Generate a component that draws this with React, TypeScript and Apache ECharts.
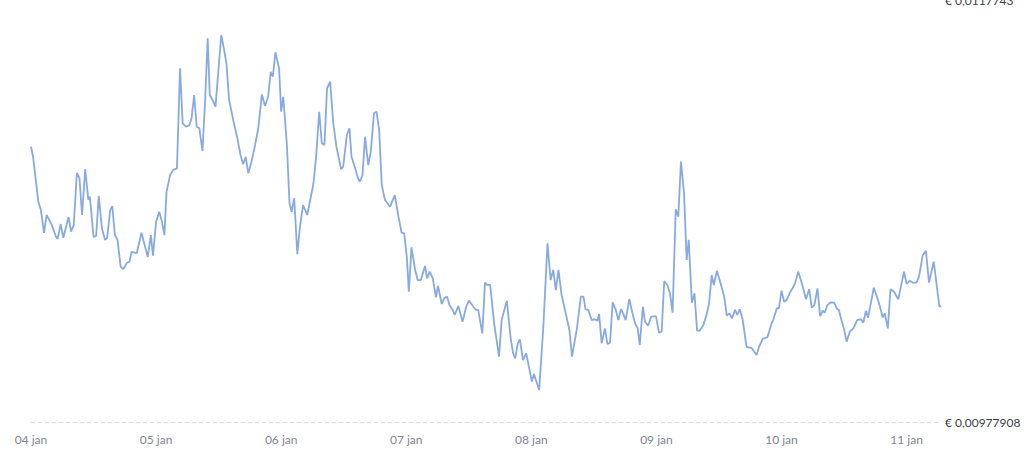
import React, { useEffect, useRef } from "react";
import * as echarts from "echarts";

// Hours since 04 jan 00:00
const hours: number[] = [
  0.0, 0.4, 1.4, 1.9, 2.5, 3.0, 4.0, 4.8, 5.1, 5.7, 6.2, 7.2, 7.7, 8.2, 8.8, 9.3, 9.8, 10.4, 11.0, 11.3,
  12.0, 12.5, 13.0, 13.6, 14.2, 14.6, 15.2, 15.6, 16.1, 16.6, 17.2, 17.7, 18.4, 18.9, 19.3, 20.3, 21.2, 21.9, 22.4, 23.0,
  23.4, 24.0, 24.6, 25.1, 25.6, 26.0, 26.7, 27.3, 28.0, 28.6, 29.1, 29.7, 30.4, 30.8, 31.3, 31.8, 32.3, 32.9, 33.4, 33.9,
  34.3, 35.0, 35.4, 36.5, 37.0, 37.5, 38.0, 38.8, 39.6, 40.2, 40.7, 41.2, 41.7, 42.3, 43.0, 43.6, 44.3, 44.9, 45.5, 46.0,
  46.4, 46.9, 47.6, 48.0, 48.4, 49.1, 49.6, 50.0, 50.5, 51.1, 51.6, 52.2, 53.0, 53.7, 54.2, 54.7, 55.3, 55.8, 56.3, 56.8,
  57.4, 58.0, 58.6, 59.5, 59.9, 60.6, 61.1, 61.5, 62.2, 62.7, 63.1, 63.6, 64.1, 64.7, 65.2, 65.8, 66.3, 66.8, 67.3, 67.9,
  68.9, 69.8, 70.5, 71.1, 71.6, 72.1, 72.5, 73.0, 73.7, 74.2, 74.8, 75.6, 76.0, 76.5, 77.1, 77.7, 78.1, 78.8, 79.3, 79.8,
  80.3, 80.9, 81.3, 82.0, 82.8, 83.5, 84.0, 84.9, 85.4, 85.8, 86.6, 87.1, 87.5, 88.1, 88.9, 89.8, 90.3, 91.3, 92.0, 92.5,
  92.9, 93.4, 93.8, 94.4, 95.0, 95.4, 96.1, 96.5, 97.5, 98.3, 99.1, 99.7, 100.2, 100.7, 101.2, 101.8, 103.3, 103.8, 104.7, 105.5,
  106.0, 106.4, 106.9, 107.6, 108.2, 108.7, 109.0, 109.5, 110.1, 110.6, 111.1, 111.6, 112.2, 112.7, 113.2, 113.6, 114.1, 114.8, 115.4, 115.9,
  116.4, 116.8, 117.4, 117.8, 118.4, 119.0, 119.9, 120.5, 121.0, 121.5, 122.1, 122.6, 123.1, 123.7, 124.2, 124.7, 125.3, 125.8, 126.2, 126.8,
  127.3, 127.8, 128.3, 129.0, 129.6, 130.1, 130.6, 131.0, 131.6, 132.3, 133.0, 133.5, 134.0, 134.5, 135.1, 135.5, 136.0, 136.5, 137.3, 138.3,
  139.2, 139.7, 140.4, 141.3, 142.1, 142.4, 143.1, 143.5, 144.0, 144.5, 145.0, 145.6, 146.1, 146.6, 147.2, 147.9, 148.7, 149.3, 149.8, 150.3,
  150.9, 151.4, 151.9, 152.3, 152.8, 153.4, 154.1, 154.7, 155.0, 155.5, 156.0, 156.5, 157.1, 157.8, 158.5, 159.2, 159.7, 160.2, 160.6, 161.2,
  161.7, 162.4, 162.9, 163.4, 163.8, 164.4, 164.9, 165.6, 166.4, 167.5, 168.0, 168.6, 169.2, 169.9, 170.4, 171.1, 171.7, 172.3, 173.2, 174.3,
  174.6,
];

// Price in EUR
const prices: number[] = [
  0.011081, 0.011033, 0.010821, 0.010781, 0.010673, 0.010758, 0.010710, 0.010655, 0.010644, 0.010715,
  0.010650, 0.010748, 0.010679, 0.010710, 0.010956, 0.010933, 0.010758, 0.010975, 0.010829, 0.010844,
  0.010654, 0.010659, 0.010848, 0.010696, 0.010640, 0.010649, 0.010781, 0.010800, 0.010663, 0.010640,
  0.010513, 0.010502, 0.010531, 0.010537, 0.010584, 0.010578, 0.010674, 0.010608, 0.010559, 0.010663,
  0.010566, 0.010725, 0.010773, 0.010729, 0.010663, 0.010867, 0.010947, 0.010971, 0.010978, 0.011451,
  0.011191, 0.011175, 0.011183, 0.011215, 0.011325, 0.011175, 0.011168, 0.011060, 0.011293, 0.011593,
  0.011325, 0.011293, 0.011270, 0.011609, 0.011546, 0.011475, 0.011302, 0.011207, 0.011120, 0.011042,
  0.010998, 0.011033, 0.010955, 0.011010, 0.011089, 0.011168, 0.011328, 0.011273, 0.011317, 0.011435,
  0.011412, 0.011527, 0.011451, 0.011246, 0.011317, 0.011089, 0.010813, 0.010773, 0.010837, 0.010573,
  0.010702, 0.010805, 0.010758, 0.010844, 0.010908, 0.011033, 0.011246, 0.011097, 0.011089, 0.011357,
  0.011388, 0.011191, 0.011081, 0.010974, 0.010986, 0.011136, 0.011168, 0.011033, 0.010979, 0.010934,
  0.010915, 0.010947, 0.011128, 0.010994, 0.011057, 0.011239, 0.011246, 0.011160, 0.010900, 0.010829,
  0.010797, 0.010852, 0.010750, 0.010674, 0.010671, 0.010561, 0.010395, 0.010605, 0.010498, 0.010450,
  0.010450, 0.010517, 0.010458, 0.010490, 0.010458, 0.010369, 0.010422, 0.010337, 0.010365, 0.010372,
  0.010332, 0.010309, 0.010285, 0.010328, 0.010253, 0.010324, 0.010353, 0.010324, 0.010309, 0.010309,
  0.010198, 0.010438, 0.010427, 0.010427, 0.010238, 0.010088, 0.010261, 0.010353, 0.010182, 0.010104,
  0.010080, 0.010151, 0.010170, 0.010072, 0.010104, 0.010057, 0.009970, 0.010006, 0.009930, 0.010230,
  0.010624, 0.010450, 0.010498, 0.010403, 0.010498, 0.010380, 0.010214, 0.010088, 0.010214, 0.010372,
  0.010372, 0.010312, 0.010309, 0.010261, 0.010265, 0.010258, 0.010290, 0.010151, 0.010222, 0.010148,
  0.010154, 0.010345, 0.010309, 0.010261, 0.010312, 0.010293, 0.010261, 0.010361, 0.010293, 0.010246,
  0.010222, 0.010143, 0.010324, 0.010253, 0.010234, 0.010277, 0.010280, 0.010201, 0.010206, 0.010446,
  0.010427, 0.010388, 0.010296, 0.010785, 0.010750, 0.011010, 0.010860, 0.010545, 0.010640, 0.010343,
  0.010388, 0.010211, 0.010211, 0.010238, 0.010285, 0.010340, 0.010474, 0.010427, 0.010494, 0.010435,
  0.010372, 0.010282, 0.010293, 0.010269, 0.010309, 0.010285, 0.010312, 0.010269, 0.010134, 0.010128,
  0.010096, 0.010135, 0.010172, 0.010180, 0.010246, 0.010261, 0.010317, 0.010317, 0.010400, 0.010348,
  0.010356, 0.010390, 0.010411, 0.010435, 0.010490, 0.010435, 0.010359, 0.010407, 0.010320, 0.010332,
  0.010411, 0.010280, 0.010305, 0.010296, 0.010332, 0.010345, 0.010343, 0.010312, 0.010309, 0.010261,
  0.010217, 0.010159, 0.010206, 0.010222, 0.010261, 0.010265, 0.010249, 0.010305, 0.010272, 0.010348,
  0.010414, 0.010364, 0.010324, 0.010274, 0.010293, 0.010222, 0.010407, 0.010395, 0.010359, 0.010490,
  0.010432, 0.010447, 0.010438, 0.010438, 0.010469, 0.010569, 0.010589, 0.010438, 0.010537, 0.010324,
  0.010328,
];

const yMin = 0.00977908;
const yMax = 0.0117743;
const startDay = 4;
const monthLabel = "jan";

export default function App() {
  const ref = useRef<HTMLDivElement>(null);

  useEffect(() => {
    document.body.style.margin = "0";
    if (!ref.current) return;
    const chart = echarts.init(ref.current, undefined, { renderer: "svg" });
    const data = hours.map((h, i) => [h, prices[i]]);
    const fmtPrice = (v: number) => "€ " + String(v).replace(".", ",");
    chart.setOption({
      animation: false,
      backgroundColor: "#ffffff",
      textStyle: { fontFamily: "Lato, 'Noto Sans', sans-serif" },
      grid: { left: 31, right: 83, top: 0, bottom: 46, outerBoundsMode: "none", containLabel: false },
      xAxis: {
        type: "value",
        min: 0,
        max: hours[hours.length - 1],
        interval: 24,
        axisLine: {
          show: true,
          lineStyle: { color: "#dcdcdc", type: [4, 3], width: 1 },
        },
        axisTick: { show: false },
        splitLine: { show: false },
        axisLabel: {
          showMaxLabel: false,
          margin: 11,
          color: "#80868f",
          fontSize: 12,
          formatter: (v: number) => {
            const d = startDay + Math.round(v / 24);
            return (d < 10 ? "0" + d : String(d)) + " " + monthLabel;
          },
        },
      },
      yAxis: {
        type: "value",
        position: "right",
        min: yMin,
        max: yMax,
        axisLine: { show: false },
        axisTick: { show: false },
        splitLine: { show: false },
        axisLabel: {
          showMinLabel: true,
          showMaxLabel: true,
          verticalAlignMinLabel: "middle",
          verticalAlignMaxLabel: "middle",
          margin: 4,
          color: "#3c3f44",
          fontSize: 12,
          formatter: (v: number) =>
            Math.abs(v - yMin) < 1e-10 || Math.abs(v - yMax) < 1e-10 ? fmtPrice(v) : "",
        },
      },
      series: [
        {
          type: "line",
          data,
          showSymbol: false,
          symbol: "none",
          lineStyle: { color: "#87aae2", width: 1.8 },
          itemStyle: { color: "#87aae2" },
        },
      ],
    });
    return () => chart.dispose();
  }, []);

  return <div ref={ref} style={{ width: 1024, height: 468 }} />;
}
